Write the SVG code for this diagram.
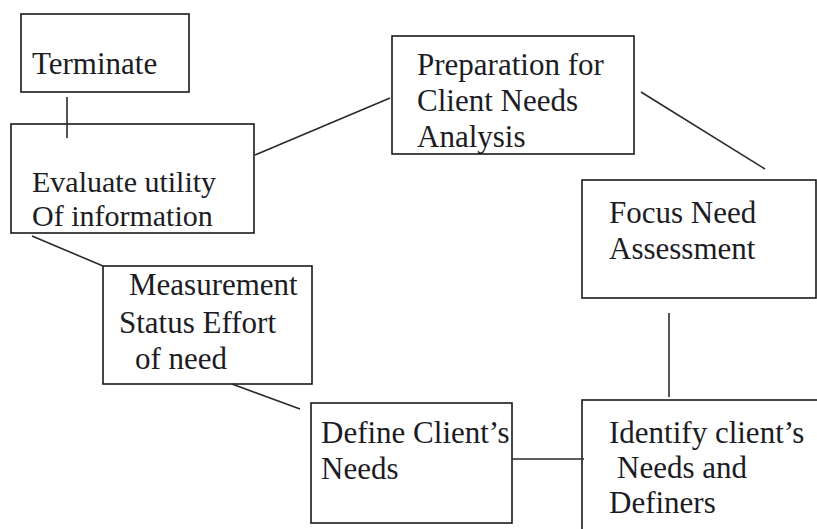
<svg xmlns="http://www.w3.org/2000/svg" width="817" height="529" viewBox="0 0 817 529">
  <style>
    .box { fill: #ffffff; stroke: #1a1a1a; stroke-width: 1.6; }
    .lbl { font-family: "Liberation Serif", "Times New Roman", serif; font-size: 31px; fill: #1c1c24; }
    .tight { font-size: 30px; }
    .link { stroke: #2a2a2a; stroke-width: 1.6; fill: none; }
  </style>
  <rect width="817" height="529" fill="#ffffff"/>

  <g id="terminate">
    <rect class="box" x="21" y="14" width="168" height="78"/>
    <text class="lbl" x="32" y="74">Terminate</text>
  </g>

  <g id="evaluate">
    <rect class="box" x="11" y="124" width="243" height="109"/>
    <text class="lbl tight" x="32" y="192">Evaluate utility</text>
    <text class="lbl tight" x="32" y="226">Of information</text>
  </g>

  <g id="preparation">
    <rect class="box" x="392" y="36" width="242" height="118"/>
    <text class="lbl" x="417" y="75">Preparation for</text>
    <text class="lbl" x="417" y="111">Client Needs</text>
    <text class="lbl" x="417" y="147">Analysis</text>
  </g>

  <g id="focus">
    <rect class="box" x="582" y="180" width="234" height="118"/>
    <text class="lbl" x="609" y="223">Focus Need</text>
    <text class="lbl" x="609" y="259">Assessment</text>
  </g>

  <g id="measurement">
    <rect class="box" x="103" y="266" width="209" height="118"/>
    <text class="lbl" x="129" y="295">Measurement</text>
    <text class="lbl" x="119" y="333">Status Effort</text>
    <text class="lbl" x="135" y="369">of need</text>
  </g>

  <g id="define">
    <rect class="box" x="311" y="403" width="201" height="120"/>
    <text class="lbl" x="321" y="443">Define Client’s</text>
    <text class="lbl" x="321" y="479">Needs</text>
  </g>

  <g id="identify">
    <rect class="box" x="582" y="400" width="240" height="140"/>
    <text class="lbl" x="609" y="443">Identify client’s</text>
    <text class="lbl" x="617" y="478">Needs and</text>
    <text class="lbl" x="609" y="513">Definers</text>
  </g>

  <g id="connectors">
    <line class="link" x1="67" y1="97" x2="67" y2="138"/>
    <line class="link" x1="255" y1="155" x2="390" y2="98"/>
    <line class="link" x1="641" y1="92" x2="765" y2="169"/>
    <line class="link" x1="669" y1="313" x2="669" y2="397"/>
    <line class="link" x1="512" y1="459" x2="584" y2="459"/>
    <line class="link" x1="232" y1="384" x2="300" y2="409"/>
    <line class="link" x1="32" y1="236" x2="103" y2="266"/>
  </g>
</svg>
